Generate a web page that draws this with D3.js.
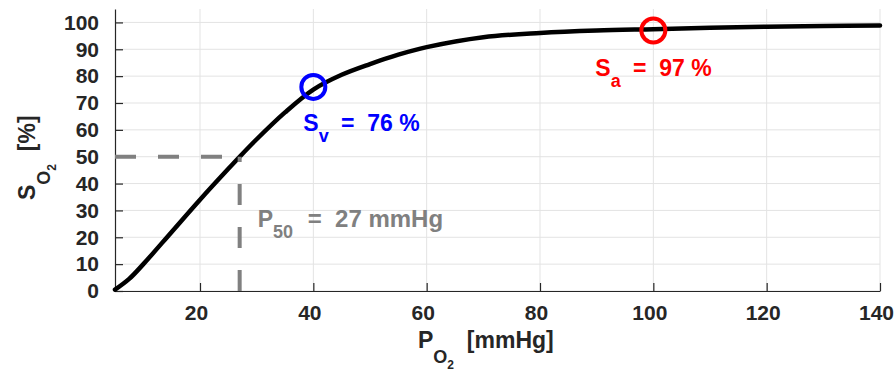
<!DOCTYPE html>
<html>
<head>
<meta charset="utf-8">
<script src="https://cdn.jsdelivr.net/npm/d3@7"></script>
<style>
  body { margin: 0; background: #fff; }
  text { font-family: "Liberation Sans", Arial, Helvetica, sans-serif; font-weight: bold; white-space: pre; }
</style>
</head>
<body>
<div id="chart"></div>
<script>
// oxygen dissociation curve
var po2 = [5, 7.5, 10, 15, 20, 25, 27, 30, 35, 40, 45, 50, 55, 60, 70, 80, 90, 100, 110, 120, 130, 140];
var so2 = [0.5, 4.5, 10, 22, 34, 45.5, 50, 56.5, 66.5, 75, 80.5, 84.5, 88, 90.8, 94.5, 96.1, 97, 97.5, 98, 98.4, 98.7, 98.9];

var xTicks = [20, 40, 60, 80, 100, 120, 140];
var yTicks = [0, 10, 20, 30, 40, 50, 60, 70, 80, 90, 100];

var p50 = 27;          // mmHg
var venous = [40, 76];   // PO2, SO2
var arterial = [100, 97];

var width = 896, height = 372;
var x = d3.scaleLinear().domain([5, 140]).range([115, 880]);
var y = d3.scaleLinear().domain([0, 105]).range([291, 9]);

var svg = d3.select("#chart").append("svg").attr("width", width).attr("height", height);

// grid
svg.append("g").selectAll("line").data(xTicks).join("line")
    .attr("x1", d => x(d)).attr("x2", d => x(d)).attr("y1", y(0)).attr("y2", y(105))
    .attr("stroke", "#e3e3e3").attr("stroke-width", 1);
svg.append("g").selectAll("line").data(yTicks).join("line")
    .attr("x1", x(5)).attr("x2", x(140)).attr("y1", d => y(d)).attr("y2", d => y(d))
    .attr("stroke", "#e3e3e3").attr("stroke-width", 1);

// axes
var xAxis = svg.append("g").attr("transform", "translate(0," + y(0) + ")")
    .call(d3.axisBottom(x).tickValues(xTicks).tickSizeInner(-8).tickSizeOuter(0).tickPadding(14));
var yAxis = svg.append("g").attr("transform", "translate(" + x(5) + ",0)")
    .call(d3.axisLeft(y).tickValues(yTicks).tickSizeInner(-8).tickSizeOuter(0).tickPadding(16));
[xAxis, yAxis].forEach(a => {
    a.select(".domain").attr("stroke", "#262626").attr("stroke-width", 1.2);
    a.selectAll(".tick line").attr("stroke", "#262626").attr("stroke-width", 1.2);
    a.selectAll(".tick text").attr("fill", "#262626").style("font-size", "21px");
    a.attr("font-family", null).attr("font-size", null);
});
xAxis.selectAll(".tick text").attr("dx", -4);

// curve
var line = d3.line().x((d, i) => x(po2[i])).y(d => y(d)).curve(d3.curveCatmullRom.alpha(0.5));
svg.append("path").datum(so2).attr("fill", "none").attr("stroke", "#000").attr("stroke-width", 4.5)
    .attr("stroke-linecap", "round").attr("d", line);

// P50 dashed guides
svg.append("line").attr("x1", x(5)).attr("x2", x(p50)).attr("y1", y(50)).attr("y2", y(50))
    .attr("stroke", "#808080").attr("stroke-width", 4).attr("stroke-dasharray", "21,22");
svg.append("line").attr("x1", x(p50)).attr("x2", x(p50)).attr("y1", y(0)).attr("y2", y(50))
    .attr("stroke", "#808080").attr("stroke-width", 4).attr("stroke-dasharray", "21,22");

// markers
svg.append("circle").attr("cx", x(venous[0])).attr("cy", y(venous[1])).attr("r", 12)
    .attr("fill", "none").attr("stroke", "#0000ff").attr("stroke-width", 4);
svg.append("circle").attr("cx", x(arterial[0])).attr("cy", y(arterial[1])).attr("r", 12)
    .attr("fill", "none").attr("stroke", "#ff0000").attr("stroke-width", 4);

// text with subscript
function subText(px, py, main, sub, rest, color, gap) {
    var t = svg.append("text").attr("x", px).attr("y", py).attr("fill", color).style("font-size", "23px");
    t.append("tspan").text(main);
    t.append("tspan").attr("dy", 11).style("font-size", "18px").text(sub);
    t.append("tspan").attr("dy", -11).attr("dx", gap).text(rest);
    return t;
}
subText(x(venous[0]) - 10, y(venous[1]) + 44, "S", "v", " =  " + venous[1] + " %", "#0000ff", 6);
subText(x(arterial[0]) - 58, y(arterial[1]) + 46, "S", "a", " =  " + arterial[1] + " %", "#ff0000", 6);
subText(x(p50) + 18, y(50) + 70, "P", "50", " =  " + p50 + " mmHg", "#808080", 8)
    .select("tspan:last-child").style("font-size", "24px");

// axis labels
function axisLabel(g, main, sub, subsub, rest) {
    g.attr("fill", "#262626").style("font-size", "23px");
    g.append("tspan").text(main);
    g.append("tspan").attr("dy", 15).style("font-size", "18px").text(sub);
    g.append("tspan").attr("dy", 6).style("font-size", "12px").text(subsub);
    g.append("tspan").attr("dy", -21).text(rest);
}
axisLabel(svg.append("text").attr("x", 418).attr("y", 348), "P", "O", "2", "  [mmHg]");
axisLabel(svg.append("text").attr("transform", "translate(35,200) rotate(-90)"), "S", "O", "2", "  [%]");
</script>
</body>
</html>
